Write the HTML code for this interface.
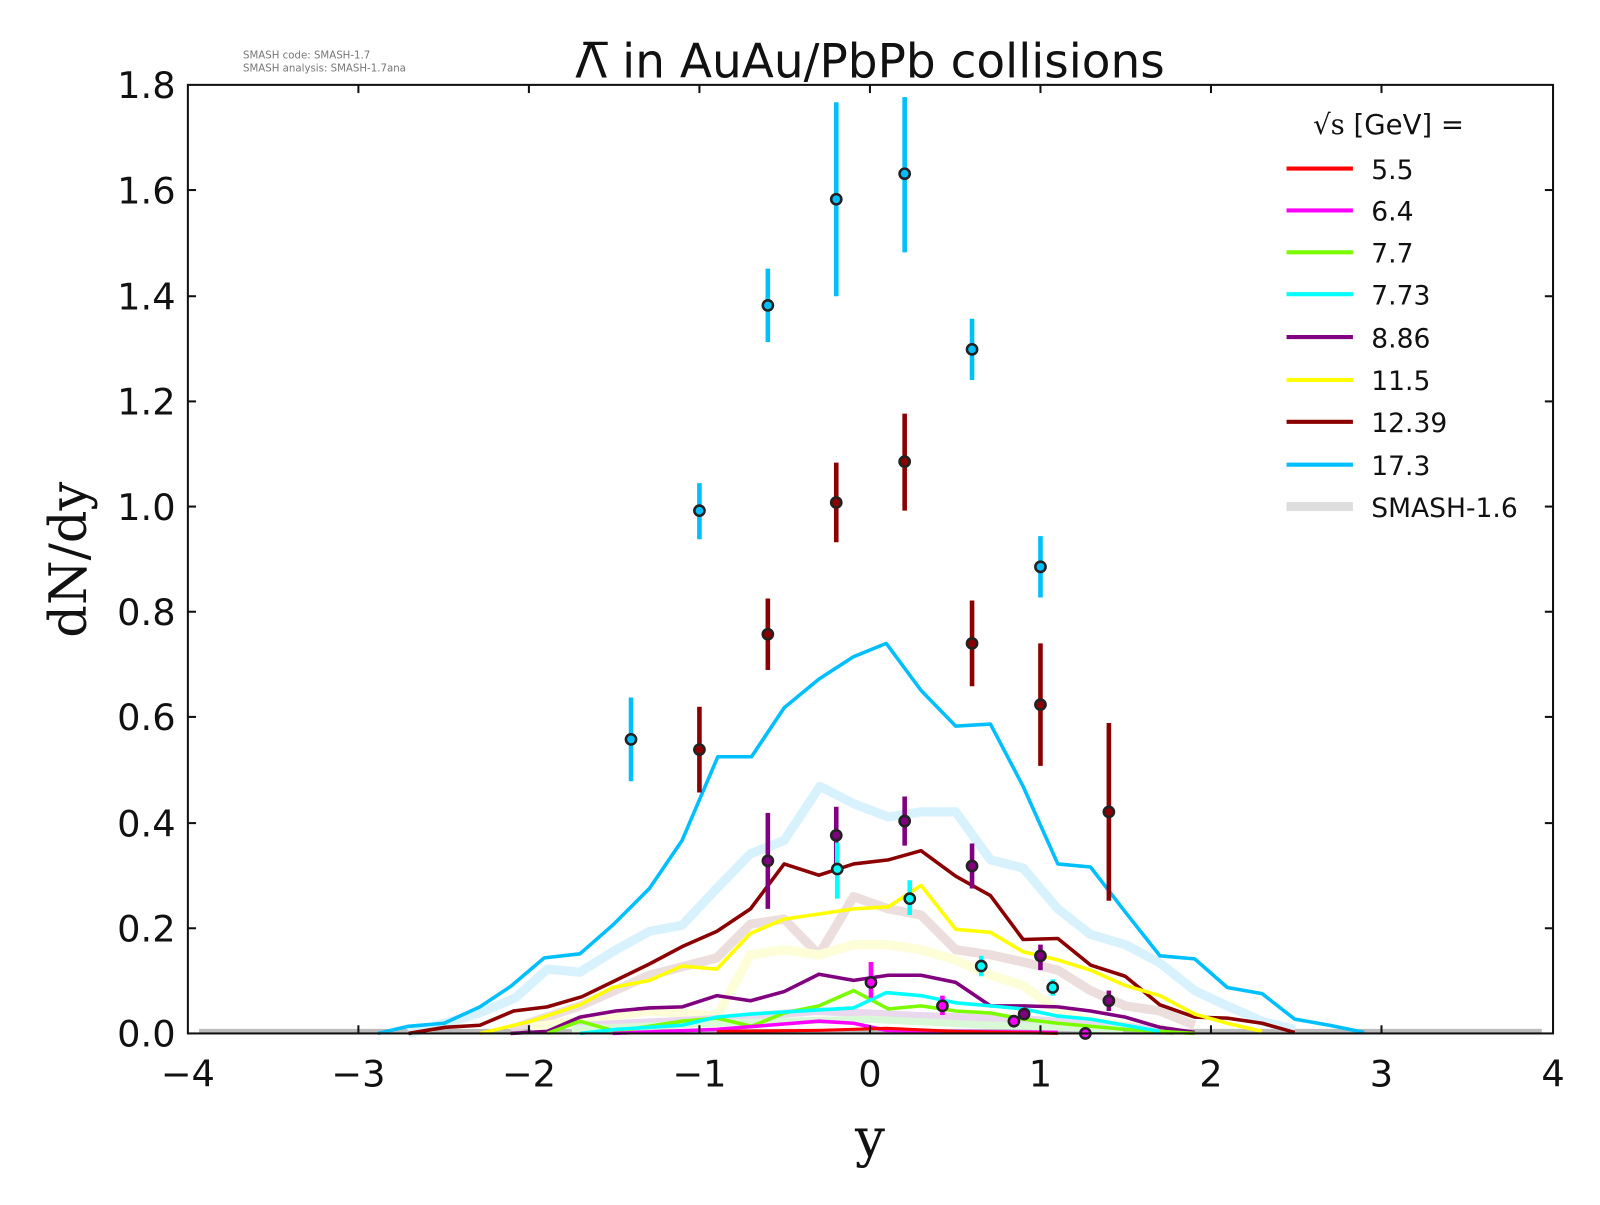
<!DOCTYPE html>
<html><head><meta charset="utf-8"><style>body{margin:0;background:#fff}</style></head><body>
<svg width="1600" height="1200" viewBox="0 0 1567 1175" xmlns="http://www.w3.org/2000/svg" font-family="'DejaVu Sans','Liberation Sans',sans-serif">
<rect width="1567" height="1175" fill="#fff"/>
<text x="238" y="57" font-size="10" fill="#777">SMASH code:      SMASH-1.7</text>
<text x="238" y="70" font-size="10" fill="#777">SMASH analysis: SMASH-1.7ana</text>
<text x="852" y="76" font-size="46" text-anchor="middle" fill="#111">Λ̅ in AuAu/PbPb collisions</text>
<g fill="none" stroke-linejoin="round">
<line x1="195" y1="1010" x2="1510" y2="1010" stroke="#bbb" stroke-width="5"/>
<polyline stroke="#d8f2fd" stroke-width="9" points="400,1012 436,1002 470,992 505,977 536,949 568,952 600,932 636,912 668,906 702,870 735,836 768,823 803,770 836,787 870,800 902,795 936,795 970,842 1002,850 1036,890 1068,915 1102,925 1136,943 1170,970 1202,985 1236,1000 1268,1008"/>
<polyline stroke="#ead8d8" stroke-width="9" stroke-opacity="0.85" points="500,1008 568,985 636,955 702,938 735,905 768,900 802,935 836,878 870,890 902,896 936,930 970,935 1002,942 1036,950 1068,970 1102,985 1136,990 1170,1004"/>
<polyline stroke="#fdfdd8" stroke-width="9" points="520,1006 636,990 702,995 735,935 768,930 802,935 836,925 870,925 902,930 936,940 970,955 1002,965 1036,990 1068,1000 1102,1004 1150,1010"/>
<polyline stroke="#ead8ee" stroke-width="8" points="560,1005 702,998 800,990 900,995 1000,998 1100,1005 1150,1010"/>
<polyline stroke="#d8f8d8" stroke-width="7" points="560,1008 700,1002 850,998 950,1003 1100,1008"/>
<polyline stroke="#00bfff" stroke-width="3.5" points="370,1012 400,1005 435,1002 470,986 500,966 533,938 568,934 600,906 636,870 668,823 703,741 736,741 768,693 802,665 836,643 868,630 902,676 936,711 970,709 1002,770 1036,846 1068,849 1102,893 1136,936 1170,939 1202,967 1236,973 1268,998 1302,1004 1336,1011"/>
<polyline stroke="#8b0000" stroke-width="3.5" points="400,1012 436,1006 470,1004 503,990 536,986 570,976 603,960 636,944 668,927 702,912 735,890 768,846 802,857 836,846 870,842 902,833 936,858 970,877 1002,920 1036,919 1068,945 1102,956 1136,984 1170,996 1202,997 1236,1002 1268,1011"/>
<polyline stroke="#ffff00" stroke-width="3.5" points="470,1012 520,1000 568,984 600,967 636,960 668,946 702,949 735,914 768,900 802,895 836,890 870,888 902,867 936,910 970,913 1002,932 1036,940 1068,950 1102,965 1136,975 1170,993 1202,1002 1236,1010"/>
<polyline stroke="#800080" stroke-width="3.5" points="500,1012 536,1010 568,996 603,990 636,987 668,986 702,975 735,980 768,971 802,954 836,960 870,955 902,955 936,962 970,985 1002,985 1036,986 1068,990 1102,996 1136,1006 1170,1011"/>
<polyline stroke="#7cfc00" stroke-width="3.5" points="536,1012 568,1000 603,1010 636,1005 668,1000 702,997 736,1005 768,992 802,985 836,970 870,988 902,985 936,990 970,992 1002,998 1036,1002 1102,1008 1170,1012"/>
<polyline stroke="#00ffff" stroke-width="3.5" points="568,1012 603,1008 636,1006 668,1004 702,996 735,993 768,991 802,989 836,987 868,972 902,975 936,982 970,985 1002,988 1036,995 1068,998 1102,1004 1136,1010"/>
<polyline stroke="#ff00ff" stroke-width="3.5" points="600,1012 702,1008 802,1000 836,1002 868,1009 936,1010 1036,1011"/>
<polyline stroke="#ff0000" stroke-width="3" points="702,1010 802,1009 868,1007 936,1010 1036,1012"/>
</g>
<g stroke-width="4.5">
<g stroke="#00bfff"><line x1="618" y1="683" x2="618" y2="765"/><line x1="685" y1="473" x2="685" y2="528"/><line x1="752" y1="263" x2="752" y2="335"/><line x1="819" y1="100" x2="819" y2="290"/><line x1="886" y1="95" x2="886" y2="247"/><line x1="952" y1="312" x2="952" y2="372"/><line x1="1019" y1="525" x2="1019" y2="585"/></g>
<g stroke="#8b0000"><line x1="685" y1="692" x2="685" y2="776"/><line x1="752" y1="586" x2="752" y2="656"/><line x1="819" y1="453" x2="819" y2="531"/><line x1="886" y1="405" x2="886" y2="500"/><line x1="952" y1="588" x2="952" y2="672"/><line x1="1019" y1="630" x2="1019" y2="750"/><line x1="1086" y1="708" x2="1086" y2="882"/></g>
<g stroke="#800080"><line x1="752" y1="796" x2="752" y2="890"/><line x1="819" y1="790" x2="819" y2="846"/><line x1="886" y1="780" x2="886" y2="828"/><line x1="952" y1="826" x2="952" y2="870"/><line x1="1019" y1="925" x2="1019" y2="950"/><line x1="1086" y1="970" x2="1086" y2="990"/></g>
<g stroke="#00ffff"><line x1="820" y1="825" x2="820" y2="880"/><line x1="891" y1="862" x2="891" y2="896"/><line x1="961" y1="936" x2="961" y2="956"/><line x1="1031" y1="959" x2="1031" y2="975"/></g>
<g stroke="#ff00ff"><line x1="853" y1="942" x2="853" y2="977"/><line x1="923" y1="975" x2="923" y2="994"/></g>
</g>
<g stroke="#222" stroke-width="2.5">
<g fill="#00bfff"><circle cx="618" cy="724" r="5"/><circle cx="685" cy="500" r="5"/><circle cx="752" cy="299" r="5"/><circle cx="819" cy="195" r="5"/><circle cx="886" cy="170" r="5"/><circle cx="952" cy="342" r="5"/><circle cx="1019" cy="555" r="5"/></g>
<g fill="#8b0000"><circle cx="685" cy="734" r="5"/><circle cx="752" cy="621" r="5"/><circle cx="819" cy="492" r="5"/><circle cx="886" cy="452" r="5"/><circle cx="952" cy="630" r="5"/><circle cx="1019" cy="690" r="5"/><circle cx="1086" cy="795" r="5"/></g>
<g fill="#800080"><circle cx="752" cy="843" r="5"/><circle cx="819" cy="818" r="5"/><circle cx="886" cy="804" r="5"/><circle cx="952" cy="848" r="5"/><circle cx="1019" cy="936" r="5"/><circle cx="1086" cy="980" r="5"/><circle cx="1003" cy="993" r="5"/></g>
<g fill="#00ffff"><circle cx="820" cy="851" r="5"/><circle cx="891" cy="880" r="5"/><circle cx="961" cy="946" r="5"/><circle cx="1031" cy="967" r="5"/></g>
<g fill="#ff00ff"><circle cx="853" cy="962" r="5"/><circle cx="923" cy="985" r="5"/><circle cx="993" cy="1000" r="5"/><circle cx="1063" cy="1012" r="5"/></g>
</g>
<rect x="184" y="83" width="1337" height="929" fill="none" stroke="#111" stroke-width="2"/>
<g stroke="#111" stroke-width="2">
<line x1="351" y1="1012" x2="351" y2="1004"/><line x1="518" y1="1012" x2="518" y2="1004"/><line x1="685" y1="1012" x2="685" y2="1004"/><line x1="852" y1="1012" x2="852" y2="1004"/><line x1="1019" y1="1012" x2="1019" y2="1004"/><line x1="1186" y1="1012" x2="1186" y2="1004"/><line x1="1353" y1="1012" x2="1353" y2="1004"/>
<line x1="351" y1="83" x2="351" y2="91"/><line x1="518" y1="83" x2="518" y2="91"/><line x1="685" y1="83" x2="685" y2="91"/><line x1="852" y1="83" x2="852" y2="91"/><line x1="1019" y1="83" x2="1019" y2="91"/><line x1="1186" y1="83" x2="1186" y2="91"/><line x1="1353" y1="83" x2="1353" y2="91"/>
<line x1="184" y1="909" x2="192" y2="909"/><line x1="184" y1="806" x2="192" y2="806"/><line x1="184" y1="702" x2="192" y2="702"/><line x1="184" y1="599" x2="192" y2="599"/><line x1="184" y1="496" x2="192" y2="496"/><line x1="184" y1="393" x2="192" y2="393"/><line x1="184" y1="290" x2="192" y2="290"/><line x1="184" y1="186" x2="192" y2="186"/>
<line x1="1521" y1="909" x2="1513" y2="909"/><line x1="1521" y1="806" x2="1513" y2="806"/><line x1="1521" y1="702" x2="1513" y2="702"/><line x1="1521" y1="599" x2="1513" y2="599"/><line x1="1521" y1="496" x2="1513" y2="496"/><line x1="1521" y1="393" x2="1513" y2="393"/><line x1="1521" y1="290" x2="1513" y2="290"/><line x1="1521" y1="186" x2="1513" y2="186"/>
</g>
<g font-size="36" fill="#111" text-anchor="middle">
<text x="184" y="1064">−4</text><text x="351" y="1064">−3</text><text x="518" y="1064">−2</text><text x="685" y="1064">−1</text><text x="852" y="1064">0</text><text x="1019" y="1064">1</text><text x="1186" y="1064">2</text><text x="1353" y="1064">3</text><text x="1521" y="1064">4</text>
</g>
<g font-size="36" fill="#111" text-anchor="end">
<text x="172" y="1025">0.0</text><text x="172" y="922">0.2</text><text x="172" y="819">0.4</text><text x="172" y="715">0.6</text><text x="172" y="612">0.8</text><text x="172" y="509">1.0</text><text x="172" y="406">1.2</text><text x="172" y="303">1.4</text><text x="172" y="199">1.6</text><text x="172" y="96">1.8</text>
</g>
<text x="852" y="1132" font-size="52" font-family="'DejaVu Serif','Liberation Serif',serif" text-anchor="middle" fill="#111">y</text>
<text transform="translate(84,548) rotate(-90)" font-size="50" font-family="'DejaVu Serif','Liberation Serif',serif" text-anchor="middle" fill="#111">dN/dy</text>
<text x="1286" y="131" font-size="27" fill="#111"><tspan font-family="'DejaVu Serif',serif">√s</tspan>  [GeV] =</text>
<g stroke-width="4">
<line x1="1260" y1="165" x2="1325" y2="165" stroke="#ff0000"/>
<line x1="1260" y1="206" x2="1325" y2="206" stroke="#ff00ff"/>
<line x1="1260" y1="247" x2="1325" y2="247" stroke="#7cfc00"/>
<line x1="1260" y1="288" x2="1325" y2="288" stroke="#00ffff"/>
<line x1="1260" y1="330" x2="1325" y2="330" stroke="#800080"/>
<line x1="1260" y1="372" x2="1325" y2="372" stroke="#ffff00"/>
<line x1="1260" y1="413" x2="1325" y2="413" stroke="#8b0000"/>
<line x1="1260" y1="455" x2="1325" y2="455" stroke="#00bfff"/>
<line x1="1260" y1="496" x2="1325" y2="496" stroke="#dddddd" stroke-width="9"/>
</g>
<g font-size="26" fill="#111">
<text x="1343" y="175">5.5</text><text x="1343" y="216">6.4</text><text x="1343" y="257">7.7</text><text x="1343" y="298">7.73</text><text x="1343" y="340">8.86</text><text x="1343" y="382">11.5</text><text x="1343" y="423">12.39</text><text x="1343" y="465">17.3</text><text x="1343" y="506">SMASH-1.6</text>
</g>
</svg>
</body></html>
